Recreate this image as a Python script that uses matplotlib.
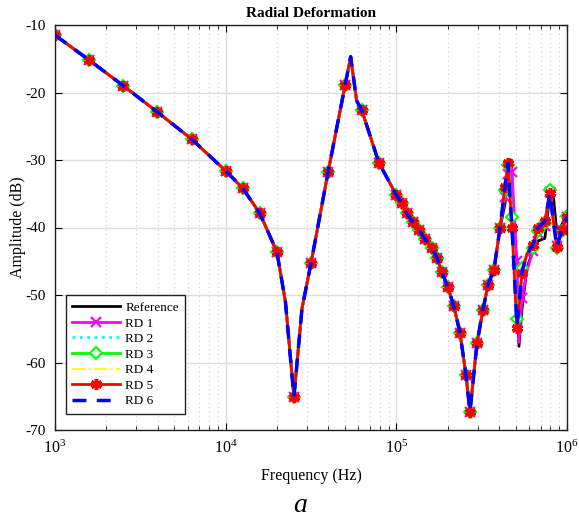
import numpy as np
import matplotlib
matplotlib.use('Agg')
import matplotlib.pyplot as plt
from matplotlib.ticker import LogLocator, NullFormatter

plt.rcParams['font.family'] = ['Liberation Serif', 'DejaVu Serif']
plt.rcParams['mathtext.fontset'] = 'custom'
plt.rcParams['mathtext.rm'] = 'Liberation Serif'
plt.rcParams['mathtext.it'] = 'Liberation Serif:italic'
plt.rcParams['axes.unicode_minus'] = False

# shared part of the response (all curves overlap up to ~400 kHz)
freq_lo = [1000, 1585, 2512, 3981, 6310, 10000, 12590, 15850, 19950, 22400,
           25120, 28000, 31620, 39810, 50120, 54000, 58500, 62700, 79000,
           100000, 108000, 115000, 125000, 136000, 147000, 162000, 173000,
           185000, 200000, 217000, 236000, 256000, 270000, 297000, 322000,
           344000, 373000, 405000]
amp_lo = [-11.5, -15.2, -19.0, -22.9, -26.9, -31.6, -34.2, -37.9, -43.6, -51.0,
          -65.1, -52.0, -45.3, -31.8, -18.9, -14.7, -21.2, -22.6, -30.4,
          -35.2, -36.4, -37.9, -39.2, -40.4, -41.7, -43.0, -44.5,
          -46.6, -48.8, -51.6, -55.6, -61.9, -67.3, -57.1, -52.2,
          -48.5, -46.3, -40.1]
mark_lo = [i for i in range(len(freq_lo)) if i not in (9, 11, 15, 16)]

# high-frequency part where the curves differ
freq_hi = [433000, 451000, 469000, 476000, 509000, 523000, 545000, 582000,
           631000, 675000, 742000, 794000, 826000, 872000, 932000, 1000000]
mark_hi = [0, 1, 3, 4, 6, 8, 9, 10, 11, 13, 14, 15]

amp_ref = [-36.5, -32.0, -30.0, -33.0, -50.0, -57.6, -52.0, -46.0,
           -43.5, -42.0, -41.6, -35.0, -34.5, -40.8, -39.6, -38.1]
amp_rd1 = [-35.5, -32.0, -31.0, -31.8, -45.0, -57.0, -50.4, -46.5,
           -43.5, -40.8, -39.8, -34.8, -37.5, -42.8, -40.4, -38.4]
amp_rd2 = [-34.2, -30.6, -36.5, -39.5, -54.5, -52.0, -46.5, -44.0,
           -42.6, -40.1, -39.1, -34.9, -38.5, -42.8, -40.4, -38.4]
amp_rd3 = [-34.5, -30.7, -35.0, -38.5, -53.5, -51.0, -46.0, -43.8,
           -43.0, -40.5, -39.3, -34.5, -38.3, -43.0, -40.5, -38.3]
amp_rd4 = [-34.0, -30.5, -37.0, -40.0, -54.8, -52.0, -46.7, -44.0,
           -42.6, -40.1, -39.1, -34.9, -38.5, -42.9, -40.4, -38.4]
amp_rd5 = [-34.0, -30.5, -37.7, -40.1, -54.9, -52.0, -46.7, -44.0,
           -42.6, -40.1, -39.1, -34.9, -38.5, -42.9, -40.4, -38.4]
amp_rd6 = [-34.0, -30.5, -37.5, -40.0, -54.6, -51.8, -46.5, -44.0,
           -42.6, -40.1, -39.1, -34.9, -38.5, -42.9, -40.4, -38.4]

labels = ['Reference', 'RD 1', 'RD 2', 'RD 3', 'RD 4', 'RD 5', 'RD 6']


def series(amp_hi):
    f = np.array(freq_lo + freq_hi, dtype=float)
    a = np.array(amp_lo + amp_hi, dtype=float)
    return f, a


marks = mark_lo + [len(freq_lo) + i for i in mark_hi]

styles = [
    dict(color='black', lw=2.0, ls='-'),
    dict(color='#ff00ff', lw=2.0, ls='-', marker='x', ms=7, mew=1.6),
    dict(color='#00ffff', lw=2.0, ls=':'),
    dict(color='#00ff00', lw=2.0, ls='-', marker='D', ms=6, mew=1.5, mfc='white'),
    dict(color='#ffff00', lw=1.5, ls='-.'),
    dict(color='#ff0000', lw=2.0, ls='-', marker=(6, 2, 0), ms=8, mew=2.5),
    dict(color='#0000ff', lw=2.5, ls=(0, (4, 3))),
]
amps = [amp_ref, amp_rd1, amp_rd2, amp_rd3, amp_rd4, amp_rd5, amp_rd6]

fig = plt.figure(figsize=(5.79, 5.22), dpi=100)
ax = fig.add_axes([55 / 579, 92 / 522, 512 / 579, 405 / 522])

for amp, st, lab in zip(amps, styles, labels):
    f, a = series(amp)
    if 'marker' in st:
        ax.plot(f, a, label=lab, markevery=marks, **st)
    else:
        ax.plot(f, a, label=lab, **st)

ax.set_xscale('log')
ax.set_xlim(1e3, 1e6)
ax.set_ylim(-70, -10)
ax.set_yticks(np.arange(-70, -9, 10))
ax.xaxis.set_minor_locator(LogLocator(base=10, subs=np.arange(2, 10)))
ax.xaxis.set_minor_formatter(NullFormatter())

ax.grid(True, which='major', color='#dddddd', lw=1.0, ls='-')
ax.grid(True, which='minor', axis='x', color='#cccccc', lw=0.8, ls=(0, (1, 3)))
ax.set_axisbelow(True)

ax.tick_params(which='both', direction='in', top=True, right=True, labelsize=11)
ax.tick_params(which='major', length=5)
ax.tick_params(which='minor', length=3)
ax.tick_params(axis='y', pad=7)
ax.tick_params(axis='x', pad=7, labelsize=11.5)
for s in ax.spines.values():
    s.set_linewidth(1.0)
    s.set_color('#222222')

ax.set_title('Radial Deformation', fontsize=11, fontweight='bold', pad=6)
ax.set_xlabel('Frequency (Hz)', fontsize=11.5, labelpad=8)
ax.set_ylabel('Amplitude (dB)', fontsize=11.5, labelpad=-1)

leg = ax.legend(loc='lower left', bbox_to_anchor=(0.021, 0.04), fontsize=9.5,
                handlelength=3.6, borderpad=0.5, labelspacing=0.25,
                handletextpad=0.4, borderaxespad=0, fancybox=False,
                framealpha=1)
leg.get_frame().set_edgecolor('#222222')
leg.get_frame().set_linewidth(1.0)

fig.text(300 / 579, 1 - 505 / 522, 'a', fontsize=20, style='italic',
         ha='center', va='center')

fig.savefig('out.png', dpi=100)
